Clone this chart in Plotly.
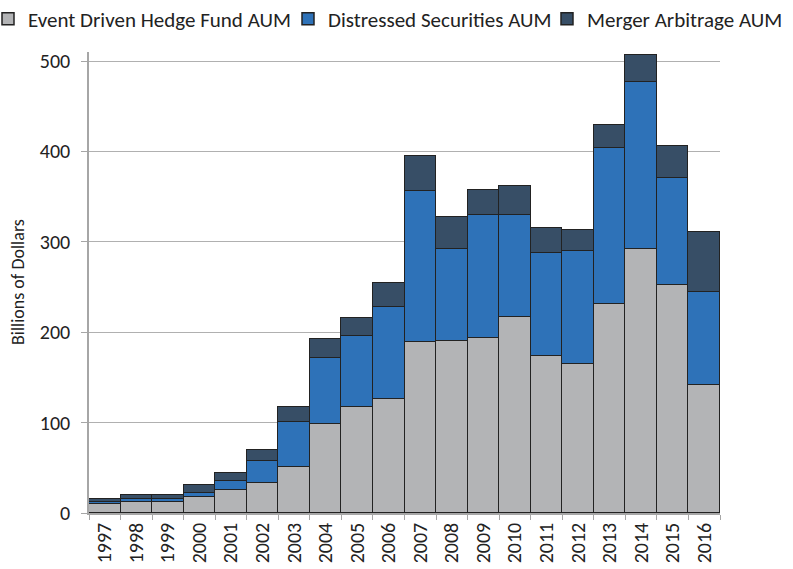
import plotly.graph_objects as go

years = [str(y) for y in range(1997, 2017)]
event_driven = [10.5, 12.5, 12, 18, 25, 33, 51, 99, 117, 126, 189, 190, 194, 217, 174, 165, 231.5, 292, 252, 142]
distressed = [1.5, 3, 3.5, 4.5, 10, 25, 50, 73, 79, 102, 167, 102, 136, 113, 114, 124.5, 172, 184.5, 119, 103]
merger_arb = [4, 4, 4.5, 8, 9, 12, 16.5, 21, 20, 26.5, 39, 36, 27.5, 32, 27.5, 24, 26, 30.5, 34.5, 66]

series = [
    ("Event Driven Hedge Fund AUM", event_driven, "#b3b4b6", "legend"),
    ("Distressed Securities AUM", distressed, "#2e72b8", "legend2"),
    ("Merger Arbitrage AUM", merger_arb, "#374e66", "legend3"),
]

font_family = "Carlito, Calibri, Open Sans, sans-serif"

L, R, T, B = 89, 73, 52, 56
W, H = 793, 569
pw = W - L - R
ph = H - T - B

def px_to_paper_x(px):
    return (px - L) / pw

def py_to_paper_y(py):
    return 1 + (T - py) / ph

fig = go.Figure()
for name, vals, color, leg in series:
    fig.add_trace(go.Bar(
        x=years, y=vals, name=name, legend=leg,
        marker=dict(color=color, line=dict(color="#222222", width=1.5)),
    ))

legend_common = dict(orientation="h", yanchor="middle", xanchor="left",
                     font=dict(size=21, color="#222222"), itemwidth=30,
                     bgcolor="rgba(0,0,0,0)", borderwidth=0)
leg_y = py_to_paper_y(19)

fig.update_layout(
    barmode="stack",
    bargap=0,
    width=W, height=H,
    paper_bgcolor="white", plot_bgcolor="white",
    margin=dict(l=L, r=R, t=T, b=B, autoexpand=False),
    font=dict(family=font_family, size=20, color="#222222"),
    legend=dict(x=px_to_paper_x(-12), y=leg_y, **legend_common),
    legend2=dict(x=px_to_paper_x(288), y=leg_y, **legend_common),
    legend3=dict(x=px_to_paper_x(547), y=leg_y, **legend_common),
    showlegend=True,
)
fig.update_yaxes(
    range=[0, 510], tickvals=[0, 100, 200, 300, 400, 500],
    showgrid=True, gridcolor="#b0b0b0", gridwidth=1,
    showline=True, linecolor="#a6a6a6", linewidth=1.5,
    ticks="outside", ticklen=6, tickcolor="#a6a6a6",
    tickfont=dict(size=20), ticklabelstandoff=7,
    zeroline=False, automargin=False,
)
fig.update_xaxes(
    tickangle=-90, tickfont=dict(size=20),
    showline=True, linecolor="#a6a6a6", linewidth=1.5,
    ticks="outside", ticklen=5, tickcolor="#a6a6a6", tickson="boundaries",
    showgrid=False, automargin=False,
)
fig.add_annotation(
    text="Billions of Dollars", textangle=-90, showarrow=False,
    xref="paper", yref="paper", x=px_to_paper_x(18), y=py_to_paper_y(282),
    xanchor="center", yanchor="middle", font=dict(size=18, color="#222222"),
)

fig.write_html("out.html", config={"displayModeBar": False},
               post_script="document.body.style.margin='0';")
